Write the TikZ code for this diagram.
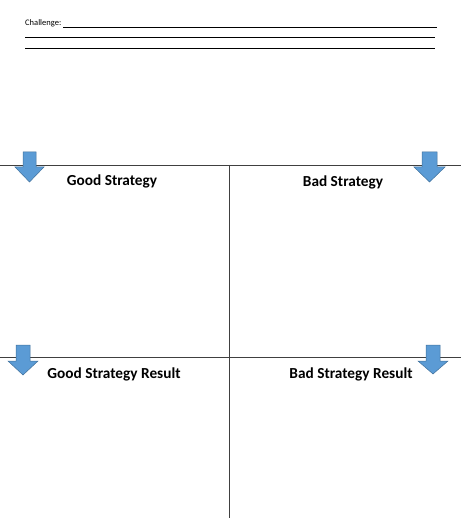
\documentclass[tikz,border=0pt]{standalone}
\usepackage{fontspec}
\setmainfont{Carlito}
\definecolor{arrowfill}{HTML}{5B9BD5}
\definecolor{arrowdraw}{HTML}{41719C}
\begin{document}
\begin{tikzpicture}[x=1pt,y=-1pt,
  rule/.style={draw=black!75,line width=0.9pt},
  uline/.style={draw=black,line width=0.7pt},
  downarrow/.style={fill=arrowfill,draw=arrowdraw,line width=0.5pt},
  heading/.style={font=\bfseries\fontsize{15.3}{17}\selectfont,inner sep=0pt,anchor=center}]
\useasboundingbox (0,0) rectangle (461,518);
% header
\node[anchor=west,inner sep=0pt,font=\fontsize{8.5}{10}\selectfont] (chal) at (25,23) {Challenge:};
\coordinate (l1a) at (63,27); \coordinate (l1b) at (437,27);
\coordinate (l2a) at (25,37); \coordinate (l2b) at (435,37);
\coordinate (l3a) at (25,48); \coordinate (l3b) at (435,48);
\draw[uline] (l1a) -- (l1b);
\draw[uline] (l2a) -- (l2b);
\draw[uline] (l3a) -- (l3b);
% grid
\coordinate (h1a) at (0,165); \coordinate (h1b) at (461,165);
\coordinate (h2a) at (0,357); \coordinate (h2b) at (461,357);
\coordinate (va) at (229,165); \coordinate (vb) at (229,518);
\draw[rule] (h1a) -- (h1b);
\draw[rule] (h2a) -- (h2b);
\draw[rule] (va) -- (vb);
% arrows
\path[downarrow] (23,152) -- (36,152) -- (36,167) -- (44,167) -- (29.5,182) -- (15,167) -- (23,167) -- cycle;
\path[downarrow] (422,152) -- (437,152) -- (437,167) -- (445,167) -- (429.5,182) -- (414,167) -- (422,167) -- cycle;
\path[downarrow] (16,345) -- (30,345) -- (30,361) -- (38,361) -- (23,375) -- (8,361) -- (16,361) -- cycle;
\path[downarrow] (426,345) -- (440,345) -- (440,361) -- (448,361) -- (433,374) -- (418,361) -- (426,361) -- cycle;
% headings
\node[heading] (gs) at (112,181) {Good Strategy};
\node[heading] (bs) at (343,182) {Bad Strategy};
\node[heading] (gsr) at (114,374) {Good Strategy Result};
\node[heading] (bsr) at (351,374) {Bad Strategy Result};
\end{tikzpicture}
\end{document}
